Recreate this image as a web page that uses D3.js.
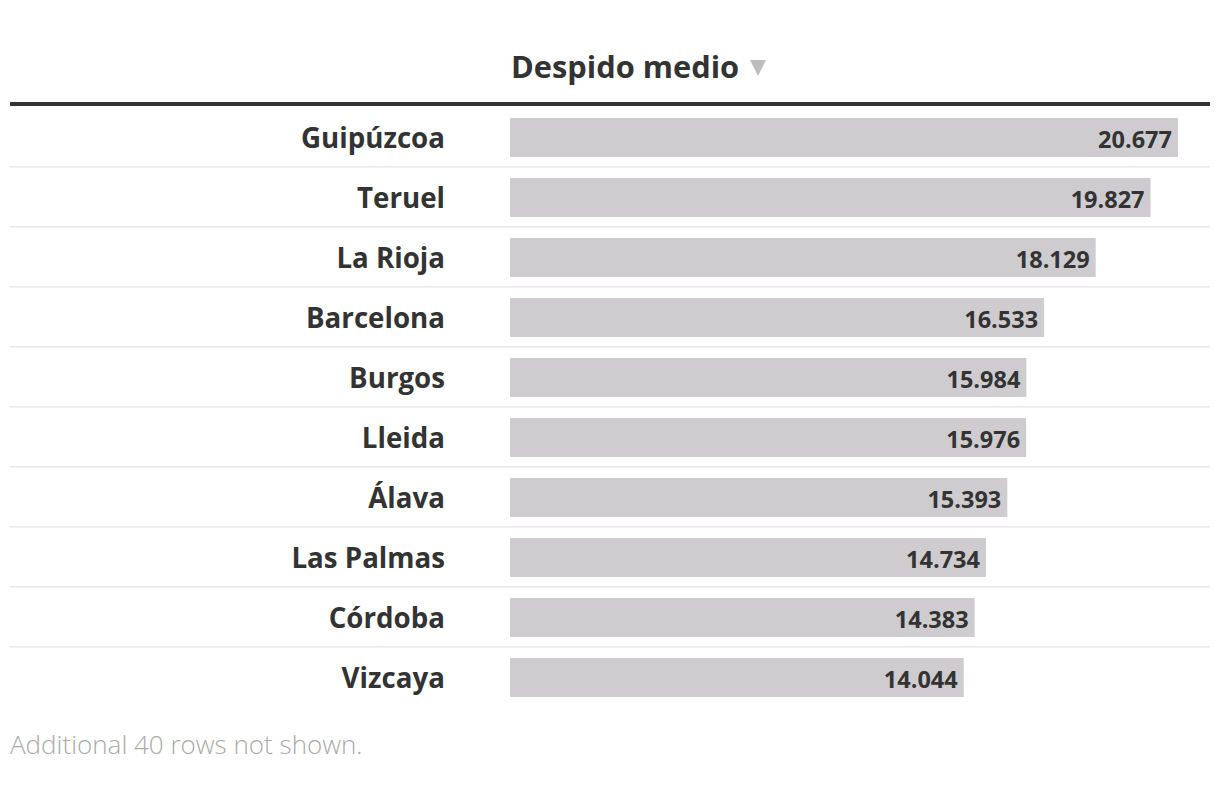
<!DOCTYPE html>
<html><head><meta charset="utf-8">
<script src="https://cdn.jsdelivr.net/npm/d3@7"></script>
<style>body{margin:0;background:#fff;font-family:"Open Sans",sans-serif;}</style>
</head><body><svg id="c" width="1220" height="812"></svg>
<script>
const provinces = ["Guipúzcoa","Teruel","La Rioja","Barcelona","Burgos","Lleida","Álava","Las Palmas","Córdoba","Vizcaya"];
const values = [20.677,19.827,18.129,16.533,15.984,15.976,15.393,14.734,14.383,14.044];
const header = "Despido medio";
const footer = "Additional 40 rows not shown.";

const svg = d3.select("#c");
const x = d3.scaleLinear().domain([0, d3.max(values)]).range([510, 1178]);
const y = d3.scaleBand().domain(provinces).range([107, 707]).paddingInner(0);
const fmt = v => d3.format(".3f")(v);

svg.append("text").attr("x",511).attr("y",78).attr("font-size",30.8).attr("font-weight",700).attr("fill","#333").text(header);
svg.append("path").attr("d","M750,60 L766,60 L758,76 Z").attr("fill","#bdbdbd");
svg.append("rect").attr("x",10).attr("y",102).attr("width",1200).attr("height",4).attr("fill","#333");

const rows = svg.selectAll("g.row").data(provinces).join("g").attr("class","row");
rows.filter((d,i)=>i>0).append("rect").attr("x",10).attr("width",1200).attr("y",d=>y(d)-1).attr("height",1.5).attr("fill","#e8e8e8");
rows.append("rect").attr("x",x(0)).attr("y",d=>y(d)+11).attr("height",39)
  .attr("width",(d,i)=>x(values[i])-x(0)).attr("fill","#cecccf");
rows.append("text").attr("x",445).attr("y",d=>y(d)+41).attr("text-anchor","end")
  .attr("font-size",27.7).attr("font-weight",700).attr("fill","#333").text(d=>d);
rows.append("text").attr("x",(d,i)=>x(values[i])-6).attr("y",d=>y(d)+41).attr("text-anchor","end")
  .attr("font-size",23.5).attr("font-weight",700).attr("fill","#333").text((d,i)=>fmt(values[i]));

svg.append("text").attr("x",10).attr("y",754).attr("font-size",26).attr("font-weight",300).attr("fill","#aaa").text(footer);
</script></body></html>
